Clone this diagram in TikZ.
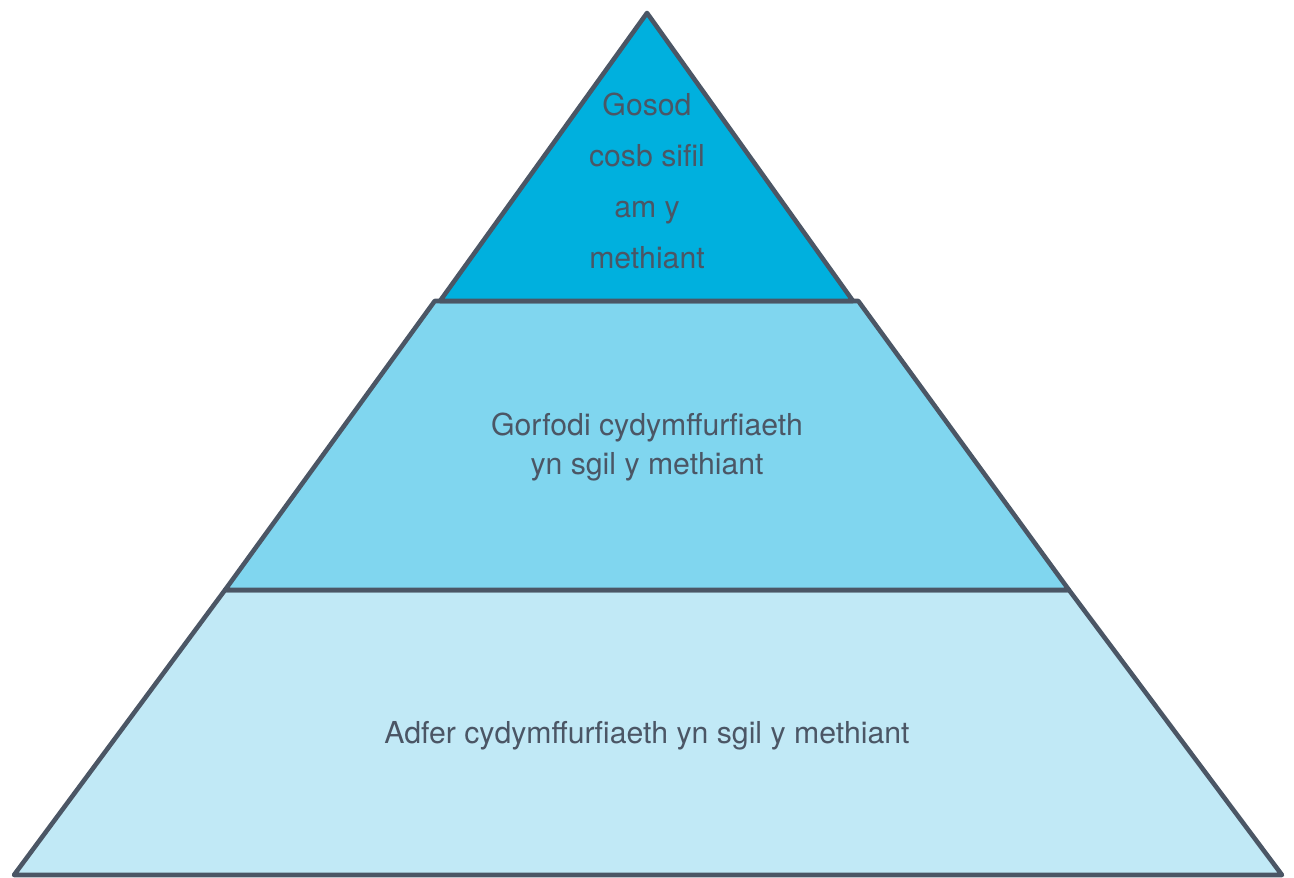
\documentclass[tikz,border=0pt]{standalone}
\usepackage{fontspec}
\setmainfont{TeX Gyre Heros}
\usepackage{tikz}

\definecolor{edge}{HTML}{4B5665}
\definecolor{tiertop}{HTML}{00B0DE}
\definecolor{tiermid}{HTML}{80D6EF}
\definecolor{tierlow}{HTML}{C1E9F6}

\begin{document}
\begin{tikzpicture}[x=0.02cm, y=0.02cm,
        tier/.style={draw=edge, line width=2.6pt, line join=round},
        label/.style={text=edge, align=center, font=\fontsize{17.2}{22}\selectfont}]
        \useasboundingbox (0,0) rectangle (1294,877);

        \coordinate (apex) at (647,864);
        \coordinate (top_l) at (440,576);
        \coordinate (top_r) at (853,576);
        \coordinate (mid_l) at (225,287);
        \coordinate (mid_r) at (1069,287);
        \coordinate (low_l) at (14,2);
        \coordinate (low_r) at (1282,2);

        \filldraw[tier, fill=tierlow] (mid_l) -- (mid_r) -- (low_r) -- (low_l) -- cycle;
        \filldraw[tier, fill=tiermid] ([xshift=-3]top_l) -- ([xshift=3]top_r) -- (mid_r) -- (mid_l) -- cycle;
        \filldraw[tier, fill=tiertop] (apex) -- (top_r) -- (top_l) -- cycle;

        \node[label, font=\fontsize{17.2}{28.9}\selectfont] (penalty) at (647,696) {Gosod\\cosb sifil\\am y\\methiant};
        \node[label] (enforce) at (647,430) {Gorfodi cydymffurfiaeth\\yn sgil y methiant};
        \node[label] (restore) at (647,141) {Adfer cydymffurfiaeth yn sgil y methiant};
\end{tikzpicture}
\end{document}
